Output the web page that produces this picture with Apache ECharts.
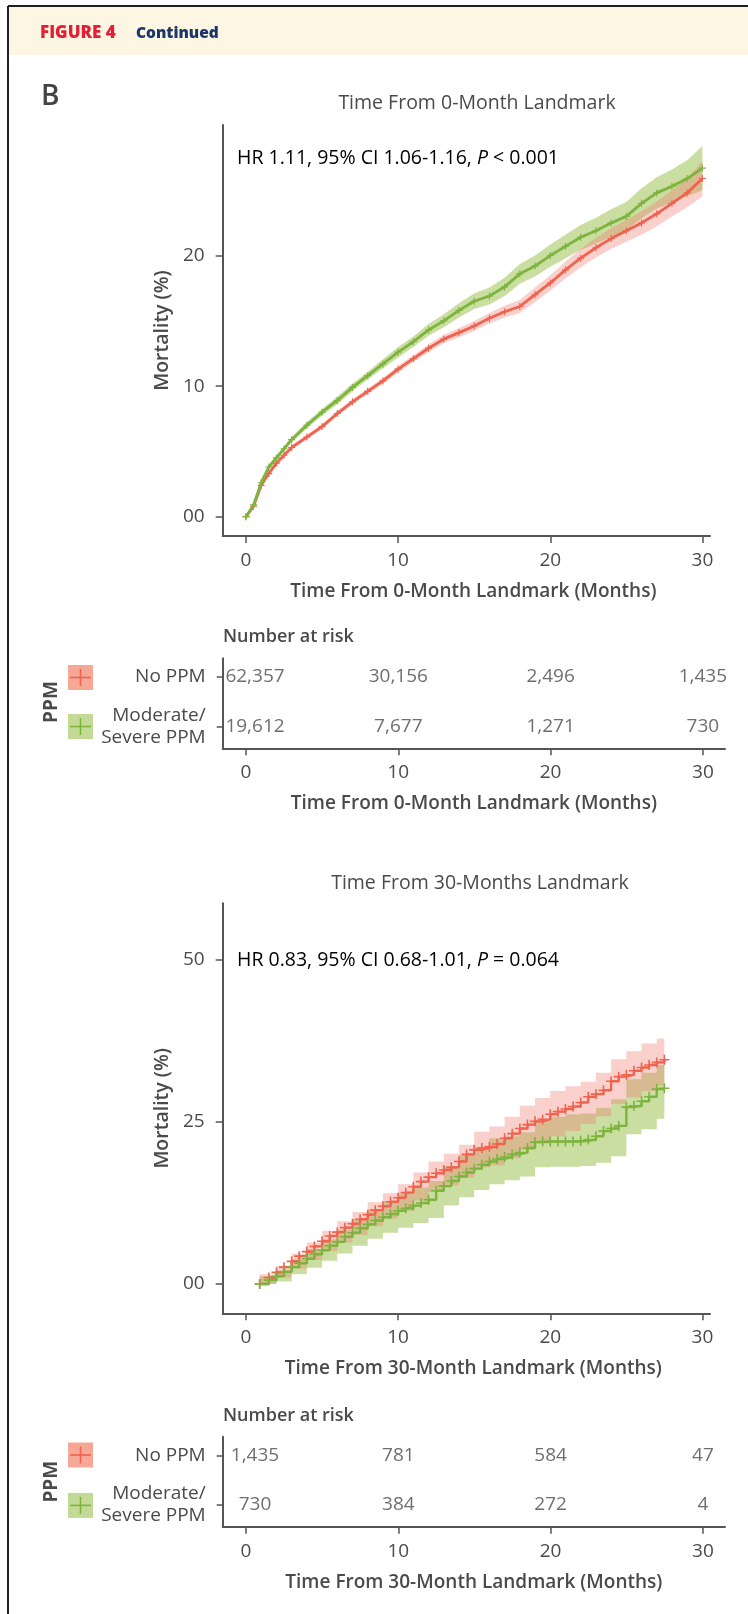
<!DOCTYPE html>
<html><head><meta charset="utf-8">
<script src="https://cdn.jsdelivr.net/npm/echarts@6/dist/echarts.min.js"></script>
<style>html,body{margin:0;padding:0;background:#fff}#c{width:748px;height:1614px}</style>
</head><body><div id="c"></div>
<script>
// ---------- DATA ----------
const topTimes = [0,0.5,1,1.5,2,2.5,3,4,5,6,7,8,9,10,11,12,13,14,15,16,17,18,19,20,21,22,23,24,25,26,27,28,29,30];
const topNoPPM   = [0,0.8,2.4,3.3,4.1,4.7,5.3,6.1,6.9,7.9,8.8,9.6,10.4,11.3,12.1,12.9,13.6,14.1,14.6,15.2,15.7,16.1,17.0,17.9,18.9,19.8,20.6,21.3,21.9,22.5,23.2,24.0,24.8,25.9];
const topNoPPMLo = [0,0.65,2.25,3.15,3.95,4.55,5.15,5.93,6.72,7.7,8.6,9.38,10.17,11.05,11.83,12.6,13.28,13.75,14.22,14.8,15.25,15.6,16.45,17.3,18.25,19.1,19.85,20.5,21.05,21.6,22.25,23.0,23.7,24.55];
const topNoPPMHi = [0,0.95,2.55,3.45,4.25,4.85,5.45,6.27,7.08,8.1,9.0,9.82,10.63,11.55,12.37,13.2,13.92,14.45,14.98,15.6,16.15,16.6,17.55,18.5,19.55,20.5,21.35,22.1,22.75,23.4,24.15,25.0,25.9,27.25];
const topMod     = [0,0.9,2.6,3.8,4.5,5.2,5.9,7.0,8.0,8.9,9.9,10.8,11.7,12.6,13.4,14.3,15.0,15.8,16.5,16.9,17.6,18.6,19.2,20.0,20.7,21.4,21.9,22.5,23.0,24.0,24.8,25.3,25.9,26.7];
const topModLo   = [0,0.7,2.4,3.6,4.3,5.0,5.7,6.75,7.75,8.6,9.6,10.5,11.35,12.2,13.0,13.85,14.5,15.25,15.9,16.25,16.9,17.85,18.4,19.15,19.8,20.45,20.9,21.45,21.9,22.85,23.6,24.05,24.55,25.0];
const topModHi   = [0,1.1,2.8,4.0,4.7,5.4,6.1,7.25,8.25,9.2,10.2,11.1,12.05,13.0,13.8,14.75,15.5,16.35,17.1,17.55,18.3,19.35,20.0,20.85,21.6,22.35,22.9,23.55,24.1,25.15,26.0,26.6,27.3,28.4];

const botTimes = [0.9,1.5,2,2.5,3,3.5,4,4.5,5,5.5,6,6.5,7,7.5,8,8.5,9,9.5,10,10.5,11,11.5,12,12.5,13,13.5,14,14.5,15,15.5,16,16.5,17,17.5,18,18.5,19,19.5,20,20.5,21,21.5,22,22.5,23,23.5,24,24.5,25,25.5,26,26.5,27,27.5];
const botNoPPM = [0,1.0,1.8,2.6,3.5,4.3,5.0,5.8,6.6,7.4,8.0,8.7,9.3,10.0,10.7,11.4,12.0,12.7,13.3,14.1,15.0,15.8,16.5,17.1,17.6,18.0,18.9,20.0,20.7,21.0,21.2,21.6,22.5,23.2,24.0,24.6,25.1,25.4,26.2,26.6,27.0,27.4,28.0,28.9,29.3,29.9,31.3,32.0,32.3,32.9,33.4,33.8,34.2,34.6];
const botMod   = [0,0.6,1.2,1.9,2.6,3.2,3.9,4.6,5.2,5.9,6.5,7.3,7.9,8.6,9.2,9.8,10.3,10.8,11.3,11.7,12.1,12.5,13.0,14.4,15.1,15.9,16.6,17.2,17.8,18.4,18.9,19.3,19.6,20.0,20.3,21.0,21.9,22.0,22.0,22.0,22.0,22.0,22.1,22.3,22.8,23.6,24.0,24.4,27.3,27.5,28.2,28.9,30.1,30.2];
const botBandTimes = [0.9,2,3,4,5,6,7,8,9,10,11,12,13,14,15,16,17,18,19,20,21,22,23,24,25,26,27,27.5];
const botNoPPMLo = [0,1.0,2.4,3.7,5.1,6.4,7.6,8.9,10.1,11.3,12.9,14.2,15.2,16.4,18.0,18.3,19.4,20.7,21.7,22.8,23.6,24.7,25.9,27.8,28.8,29.8,30.6,30.6];
const botNoPPMHi = [1.5,2.8,4.7,6.4,8.2,9.7,11.1,12.6,14.0,15.4,17.2,18.9,20.1,21.5,23.5,24.3,25.8,27.5,28.7,29.8,30.5,31.2,32.6,34.7,35.9,37.1,37.9,37.9];
const botModLo = [0,0.4,1.5,2.5,3.6,4.7,5.9,7.0,7.9,8.7,9.4,10.2,12.1,13.4,14.5,15.4,16.0,16.6,18.0,18.1,18.1,18.2,18.7,19.7,23.1,23.9,25.5,25.5];
const botModHi = [1.2,2.1,3.8,5.4,6.9,8.4,10.0,11.5,12.8,14.0,14.9,15.9,18.2,19.9,21.2,22.5,22.8,23.4,25.2,25.8,26.2,26.3,27.2,28.5,31.6,32.6,33.8,33.8];

const riskTicks = [0,10,20,30];
const risk0NoPPM = ['62,357','30,156','2,496','1,435'];
const risk0Mod   = ['19,612','7,677','1,271','730'];
const risk30NoPPM = ['1,435','781','584','47'];
const risk30Mod   = ['730','384','272','4'];
const groupLabels = {2:'No PPM', 1:'Moderate/\nSevere PPM'};

// ---------- STYLE ----------
const FONT = '"Open Sans","Noto Sans",sans-serif';
const TXT = '#4a4a4a';
const AX = '#555555';
const RED = '#ef6350', GREEN = '#7db43e';
const REDBAND = 'rgba(240,120,110,0.35)', GREENBAND = 'rgba(150,190,70,0.5)';
const PLUS = 'path://M4.2,0h1.6v10h-1.6z M0,4.2h10v1.6h-10z';

function xAx(gi, max, name, shift) {
  return {
    type:'value', gridIndex:gi, min:-1.53, max:max,
    name:name, nameLocation:'middle', nameGap:46,
    nameTextStyle:{fontFamily:FONT, fontSize:19, fontWeight:600, color:TXT, padding:[0,0,0,shift]},
    axisLine:{show:true, onZero:false, lineStyle:{color:AX, width:2}},
    axisTick:{show:true, length:7, customValues:riskTicks, lineStyle:{color:AX, width:1.5}},
    axisLabel:{customValues:riskTicks, margin:15, fontFamily:FONT, fontSize:19, color:TXT},
    splitLine:{show:false}
  };
}
function yChart(gi, min, max, ticks, name) {
  return {
    type:'value', gridIndex:gi, min:min, max:max,
    name:name, nameLocation:'middle', nameGap:50,
    nameTextStyle:{fontFamily:FONT, fontSize:19.5, fontWeight:600, color:TXT},
    axisLine:{show:true, onZero:false, lineStyle:{color:AX, width:2}},
    axisTick:{show:true, length:7, customValues:ticks, lineStyle:{color:AX, width:1.5}},
    axisLabel:{customValues:ticks, margin:18, fontFamily:FONT, fontSize:19, color:TXT,
      formatter:function(v){return v===0?'00':String(v);}},
    splitLine:{show:false}
  };
}
function yTable(gi) {
  return {
    type:'value', gridIndex:gi, min:0.56, max:2.38,
    axisLine:{show:true, onZero:false, lineStyle:{color:AX, width:2}},
    axisTick:{show:true, length:6, customValues:[1,2], lineStyle:{color:AX, width:1.5}},
    axisLabel:{customValues:[1,2], margin:17, fontFamily:FONT, fontSize:19, color:TXT, lineHeight:22, align:'right',
      formatter:function(v){return groupLabels[v]||'';}},
    splitLine:{show:false}
  };
}
function band(ai, times, lo, hi, color, step) {
  return {
    type:'custom', xAxisIndex:ai, yAxisIndex:ai, silent:true, z:1,
    data: times.map(function(t,i){return [t, lo[i], hi[i]];}),
    encode:{x:0, y:[1,2]},
    renderItem:function(params, api){
      if (params.dataIndex !== 0) return null;
      const up=[], dn=[];
      for (let i=0;i<times.length;i++){
        if (step && i>0){ up.push(api.coord([times[i], hi[i-1]])); dn.push(api.coord([times[i], lo[i-1]])); }
        up.push(api.coord([times[i], hi[i]])); dn.push(api.coord([times[i], lo[i]]));
      }
      return {type:'polygon', shape:{points: up.concat(dn.reverse())}, style:{fill:color}};
    }
  };
}
function curve(ai, times, vals, color, step, size, width, z) {
  return {
    type:'line', xAxisIndex:ai, yAxisIndex:ai, silent:true, z:z,
    data: times.map(function(t,i){return [t, vals[i]];}),
    step: step ? 'end' : false, symbol:PLUS, symbolSize:size, showSymbol:true,
    lineStyle:{color:color, width:width}, itemStyle:{color:color}
  };
}
function risk(ai, yv, labels) {
  return {
    type:'scatter', xAxisIndex:ai, yAxisIndex:ai, silent:true, symbolSize:1,
    itemStyle:{color:'rgba(0,0,0,0)'},
    data: riskTicks.map(function(t,i){
      const d = {value:[t, yv, labels[i]]};
      if (i===0) d.label = {offset:[9,0]};
      return d;
    }),
    label:{show:true, position:'inside', formatter:function(p){return p.data.value[2];},
      fontFamily:FONT, fontSize:19, color:TXT}
  };
}
function text(x, y, str, size, weight, align, color, extra) {
  const el = {type:'text', x:x, y:y, silent:true,
    style:{text:str, fontFamily:FONT, fontSize:size, fontWeight:weight, fill:color||TXT,
      align:align||'left', verticalAlign:'middle', textAlign:align||'left', textVerticalAlign:'middle'}};
  if (extra) Object.assign(el, extra);
  return el;
}
function legendBox(y, fill, stroke) {
  return {type:'group', silent:true, children:[
    {type:'rect', shape:{x:68, y:y-12.5, width:25, height:25}, style:{fill:fill}},
    {type:'line', shape:{x1:70, y1:y, x2:91, y2:y}, style:{stroke:stroke, lineWidth:1.6}},
    {type:'line', shape:{x1:80.5, y1:y-8.5, x2:80.5, y2:y+8.5}, style:{stroke:stroke, lineWidth:1.6}}
  ]};
}
function hrText(y, a, b) {
  return {type:'text', x:237, y:y, silent:true,
    style:{text:'{n|'+a+'}{i|P}{n|'+b+'}', verticalAlign:'middle', textVerticalAlign:'middle',
      rich:{n:{fontFamily:FONT, fontSize:19.5, color:TXT}, i:{fontFamily:FONT, fontSize:19.5, fontStyle:'italic', color:TXT}}}};
}

const chart = echarts.init(document.getElementById('c'), null, {renderer:'canvas'});
chart.setOption({
  animation:false,
  backgroundColor:'#ffffff',
  grid:[
    {left:222.7, top:125, width:487.3, height:411, outerBoundsMode:'none'},
    {left:222.7, top:658.3, width:502.3, height:90, outerBoundsMode:'none'},
    {left:222.7, top:903.3, width:487.3, height:410, outerBoundsMode:'none'},
    {left:222.7, top:1436.7, width:502.3, height:90, outerBoundsMode:'none'}
  ],
  xAxis:[
    xAx(0, 30.5, 'Time From 0-Month Landmark (Months)', 14),
    xAx(1, 31.45, 'Time From 0-Month Landmark (Months)', 0),
    xAx(2, 30.5, 'Time From 30-Month Landmark (Months)', 14),
    xAx(3, 31.45, 'Time From 30-Month Landmark (Months)', 0)
  ],
  yAxis:[
    yChart(0, -1.48, 30, [0,10,20], 'Mortality (%)'),
    yTable(1),
    yChart(2, -4.52, 58.75, [0,25,50], 'Mortality (%)'),
    yTable(3)
  ],
  series:[
    band(0, topTimes, topModLo, topModHi, GREENBAND, false),
    band(0, topTimes, topNoPPMLo, topNoPPMHi, REDBAND, false),
    curve(0, topTimes, topNoPPM, RED, false, 7, 2.8, 3),
    curve(0, topTimes, topMod, GREEN, false, 7, 2.8, 4),
    band(2, botBandTimes, botModLo, botModHi, GREENBAND, true),
    band(2, botBandTimes, botNoPPMLo, botNoPPMHi, REDBAND, true),
    curve(2, botTimes, botNoPPM, RED, true, 10, 2.4, 3),
    curve(2, botTimes, botMod, GREEN, true, 10, 2.4, 4),
    risk(1, 2, risk0NoPPM), risk(1, 1, risk0Mod),
    risk(3, 2, risk30NoPPM), risk(3, 1, risk30Mod)
  ],
  graphic:[
    {type:'rect', silent:true, shape:{x:9, y:7, width:739, height:48}, style:{fill:'#fdf6e3'}},
    {type:'line', silent:true, shape:{x1:8, y1:6, x2:748, y2:6}, style:{stroke:'#231f20', lineWidth:2}},
    {type:'line', silent:true, shape:{x1:8, y1:6, x2:8, y2:1614}, style:{stroke:'#231f20', lineWidth:2}},
    text(40, 33.5, 'FIGURE 4', 17, 800, 'left', '#e21f36'),
    text(136, 33.5, 'Continued', 15.5, 800, 'left', '#1b3668'),
    text(41, 97.5, 'B', 28, 600, 'left', '#444'),
    text(477, 103, 'Time From 0-Month Landmark', 19.5, 500, 'center'),
    text(480, 883, 'Time From 30-Months Landmark', 19.5, 500, 'center'),
    hrText(158.3, 'HR 1.11, 95% CI 1.06-1.16, ', ' < 0.001'),
    hrText(960, 'HR 0.83, 95% CI 0.68-1.01, ', ' = 0.064'),
    text(223, 637, 'Number at risk', 18, 600, 'left'),
    text(223, 1416, 'Number at risk', 18, 600, 'left'),
    text(52, 702, 'PPM', 19, 700, 'center', TXT, {rotation:Math.PI/2}),
    text(52, 1481.7, 'PPM', 19, 700, 'center', TXT, {rotation:Math.PI/2}),
    legendBox(677.5, '#f6a896', RED),
    legendBox(726.5, '#c3da96', GREEN),
    legendBox(1455, '#f6a896', RED),
    legendBox(1505.4, '#c3da96', GREEN)
  ]
});
</script>
</body></html>
